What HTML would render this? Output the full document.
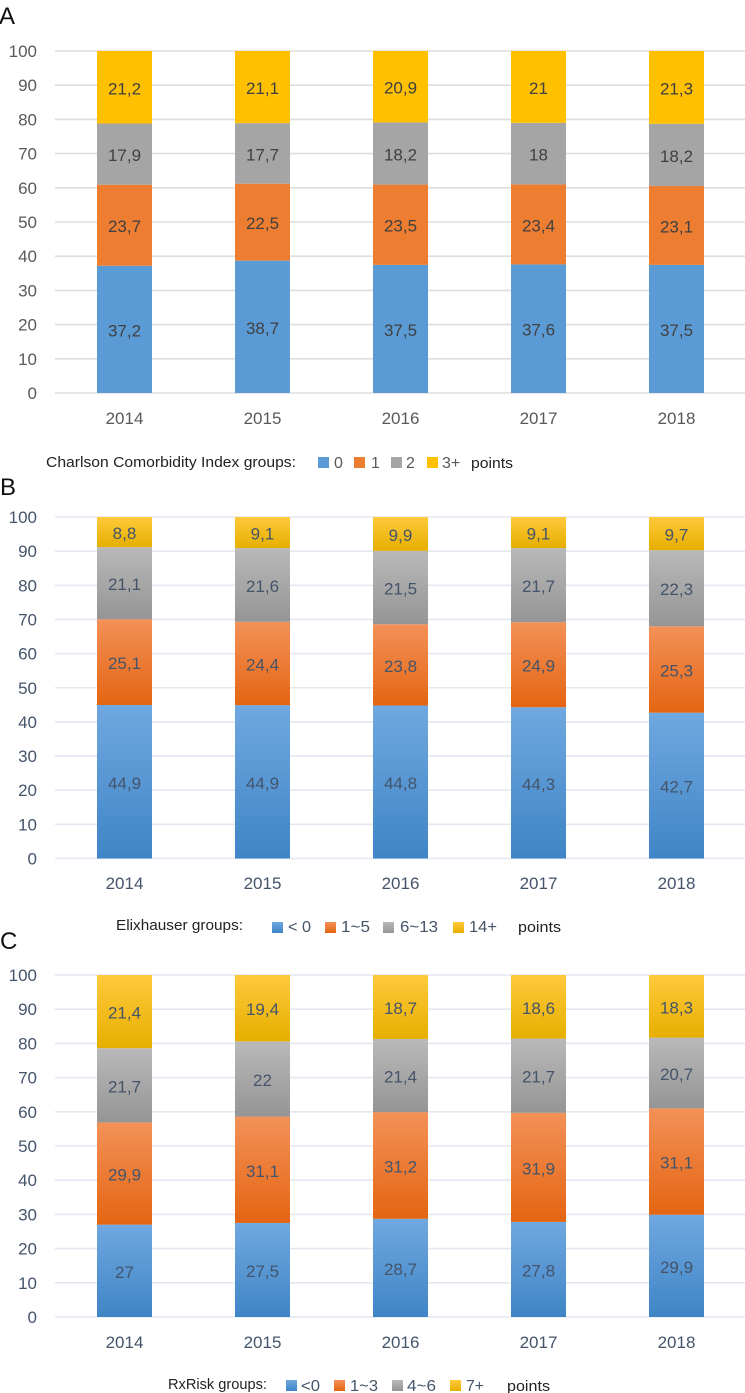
<!DOCTYPE html>
<html lang="en">
<head>
<meta charset="utf-8">
<title>Stacked comorbidity group charts</title>
<style>
html,body{margin:0;padding:0;background:#fff;}
svg{display:block;}
text{font-family:"Liberation Sans",sans-serif;}
</style>
</head>
<body>
<svg id="chart" xmlns="http://www.w3.org/2000/svg" width="745" height="1393" viewBox="0 0 745 1393">
  <defs>
    <linearGradient id="grad-0" x1="0" y1="0" x2="0" y2="1"><stop offset="0" stop-color="#70a8e0"/><stop offset="1" stop-color="#3f85c6"/></linearGradient>
    <linearGradient id="grad-1" x1="0" y1="0" x2="0" y2="1"><stop offset="0" stop-color="#f39158"/><stop offset="1" stop-color="#e46512"/></linearGradient>
    <linearGradient id="grad-2" x1="0" y1="0" x2="0" y2="1"><stop offset="0" stop-color="#b9b9b9"/><stop offset="1" stop-color="#959595"/></linearGradient>
    <linearGradient id="grad-3" x1="0" y1="0" x2="0" y2="1"><stop offset="0" stop-color="#ffc93c"/><stop offset="1" stop-color="#e6af00"/></linearGradient>
  </defs>

  <text x="-1" y="24" font-size="24" fill="#111">A</text>
  <text x="0" y="495" font-size="24" fill="#111">B</text>
  <text x="0" y="949" font-size="24" fill="#111">C</text>

  <g font-size="15" fill="#595959">
    <text x="46" y="467" fill="#222" textLength="250" lengthAdjust="spacingAndGlyphs">Charlson Comorbidity Index groups:</text>
    <rect x="318" y="457" width="11" height="11" fill="#5b9bd5"/>
    <text x="334" y="468" font-size="16">0</text>
    <rect x="354" y="457" width="11" height="11" fill="#ed7d31"/>
    <text x="371" y="468" font-size="16">1</text>
    <rect x="391" y="457" width="11" height="11" fill="#a5a5a5"/>
    <text x="406" y="468" font-size="16">2</text>
    <rect x="427" y="457" width="11" height="11" fill="#ffc000"/>
    <text x="442" y="468" font-size="16">3+</text>
    <text x="471" y="468" fill="#222" textLength="42" lengthAdjust="spacingAndGlyphs">points</text>
  </g>

  <g font-size="15" fill="#44546a">
    <text x="116" y="930" fill="#222" textLength="127" lengthAdjust="spacingAndGlyphs">Elixhauser groups:</text>
    <rect x="272" y="922" width="11" height="11" fill="url(#grad-0)"/>
    <text x="288" y="932" font-size="16" textLength="23" lengthAdjust="spacingAndGlyphs">&lt; 0</text>
    <rect x="325" y="922" width="11" height="11" fill="url(#grad-1)"/>
    <text x="341" y="932" font-size="16" textLength="29" lengthAdjust="spacingAndGlyphs">1~5</text>
    <rect x="383" y="922" width="11" height="11" fill="url(#grad-2)"/>
    <text x="400" y="932" font-size="16" textLength="38" lengthAdjust="spacingAndGlyphs">6~13</text>
    <rect x="453" y="922" width="11" height="11" fill="url(#grad-3)"/>
    <text x="469" y="932" font-size="16" textLength="28" lengthAdjust="spacingAndGlyphs">14+</text>
    <text x="518" y="932" fill="#222" textLength="43" lengthAdjust="spacingAndGlyphs">points</text>
  </g>

  <g font-size="15" fill="#44546a">
    <text x="168" y="1389" fill="#222" textLength="99" lengthAdjust="spacingAndGlyphs">RxRisk groups:</text>
    <rect x="286" y="1380" width="11" height="11" fill="url(#grad-0)"/>
    <text x="301" y="1391" font-size="16" textLength="19" lengthAdjust="spacingAndGlyphs">&lt;0</text>
    <rect x="334" y="1380" width="11" height="11" fill="url(#grad-1)"/>
    <text x="350" y="1391" font-size="16" textLength="28" lengthAdjust="spacingAndGlyphs">1~3</text>
    <rect x="392" y="1380" width="11" height="11" fill="url(#grad-2)"/>
    <text x="407" y="1391" font-size="16" textLength="29" lengthAdjust="spacingAndGlyphs">4~6</text>
    <rect x="450" y="1380" width="11" height="11" fill="url(#grad-3)"/>
    <text x="466" y="1391" font-size="16" textLength="18" lengthAdjust="spacingAndGlyphs">7+</text>
    <text x="507" y="1391" fill="#222" textLength="43" lengthAdjust="spacingAndGlyphs">points</text>
  </g>
</svg>
<script>
var years = ['2014', '2015', '2016', '2017', '2018'];
var yTicks = [0, 10, 20, 30, 40, 50, 60, 70, 80, 90, 100];

var charlson0 = ['37,2', '38,7', '37,5', '37,6', '37,5'];
var charlson1 = ['23,7', '22,5', '23,5', '23,4', '23,1'];
var charlson2 = ['17,9', '17,7', '18,2', '18', '18,2'];
var charlson3 = ['21,2', '21,1', '20,9', '21', '21,3'];

var elixhauser0 = ['44,9', '44,9', '44,8', '44,3', '42,7'];
var elixhauser1 = ['25,1', '24,4', '23,8', '24,9', '25,3'];
var elixhauser2 = ['21,1', '21,6', '21,5', '21,7', '22,3'];
var elixhauser3 = ['8,8', '9,1', '9,9', '9,1', '9,7'];

var rxrisk0 = ['27', '27,5', '28,7', '27,8', '29,9'];
var rxrisk1 = ['29,9', '31,1', '31,2', '31,9', '31,1'];
var rxrisk2 = ['21,7', '22', '21,4', '21,7', '20,7'];
var rxrisk3 = ['21,4', '19,4', '18,7', '18,6', '18,3'];

var svg = document.getElementById('chart');
var NS = 'http://www.w3.org/2000/svg';

function make(tag, attrs, parent) {
  var el = document.createElementNS(NS, tag);
  for (var k in attrs) { el.setAttribute(k, attrs[k]); }
  parent.appendChild(el);
  return el;
}
function num(s) { return parseFloat(String(s).replace(',', '.')); }

function drawPanel(id, yTop, yBottom, xLabelY, series, fills, gridColor, tickColor, labelColor) {
  var group = make('g', {}, svg);
  
  

  function yScale(v) { return yBottom - (v / 100) * (yBottom - yTop); }
  function xScale(i) { return 124.5 + i * 138; }

  yTicks.forEach(function (t) {
    var line = make('line', { x1: 55, x2: 745, y1: yScale(t), y2: yScale(t), stroke: gridColor, 'stroke-width': 1.6 }, group);
    
    
    var label = make('text', { x: 37, y: yScale(t) + 6, 'text-anchor': 'end', 'font-size': 17, fill: tickColor }, group);
    
    
    label.textContent = t;
  });

  years.forEach(function (year, i) {
    var values = series.map(function (s) { return num(s[i]); });
    var total = values.reduce(function (a, b) { return a + b; }, 0);
    var running = 0;
    values.forEach(function (v, j) {
      var start = running / total * 100;
      running += v;
      var end = running / total * 100;
      var rect = make('rect', { x: xScale(i) - 27.5, y: yScale(end), width: 55, height: yScale(start) - yScale(end), fill: fills[j] }, group);
      
      
    });
    running = 0;
    values.forEach(function (v, j) {
      var start = running / total * 100;
      running += v;
      var end = running / total * 100;
      var text = make('text', { x: xScale(i), y: (yScale(start) + yScale(end)) / 2 + 7, 'text-anchor': 'middle', 'font-size': 17, fill: labelColor }, group);
      
      
      text.textContent = series[j][i];
    });
    var xLabel = make('text', { x: xScale(i), y: xLabelY, 'text-anchor': 'middle', 'font-size': 17, fill: tickColor }, group);
    
    
    xLabel.textContent = year;
  });
}

drawPanel('a', 51, 393, 424,
  [charlson0, charlson1, charlson2, charlson3],
  ['#5b9bd5', '#ed7d31', '#a5a5a5', '#ffc000'],
  '#dedede', '#595959', '#404040');
drawPanel('b', 517, 858.5, 889,
  [elixhauser0, elixhauser1, elixhauser2, elixhauser3],
  ['url(#grad-0)', 'url(#grad-1)', 'url(#grad-2)', 'url(#grad-3)'],
  '#e3e8f1', '#44546a', '#44546a');
drawPanel('c', 975, 1317, 1348,
  [rxrisk0, rxrisk1, rxrisk2, rxrisk3],
  ['url(#grad-0)', 'url(#grad-1)', 'url(#grad-2)', 'url(#grad-3)'],
  '#e3e8f1', '#44546a', '#44546a');
</script>
</body>
</html>
